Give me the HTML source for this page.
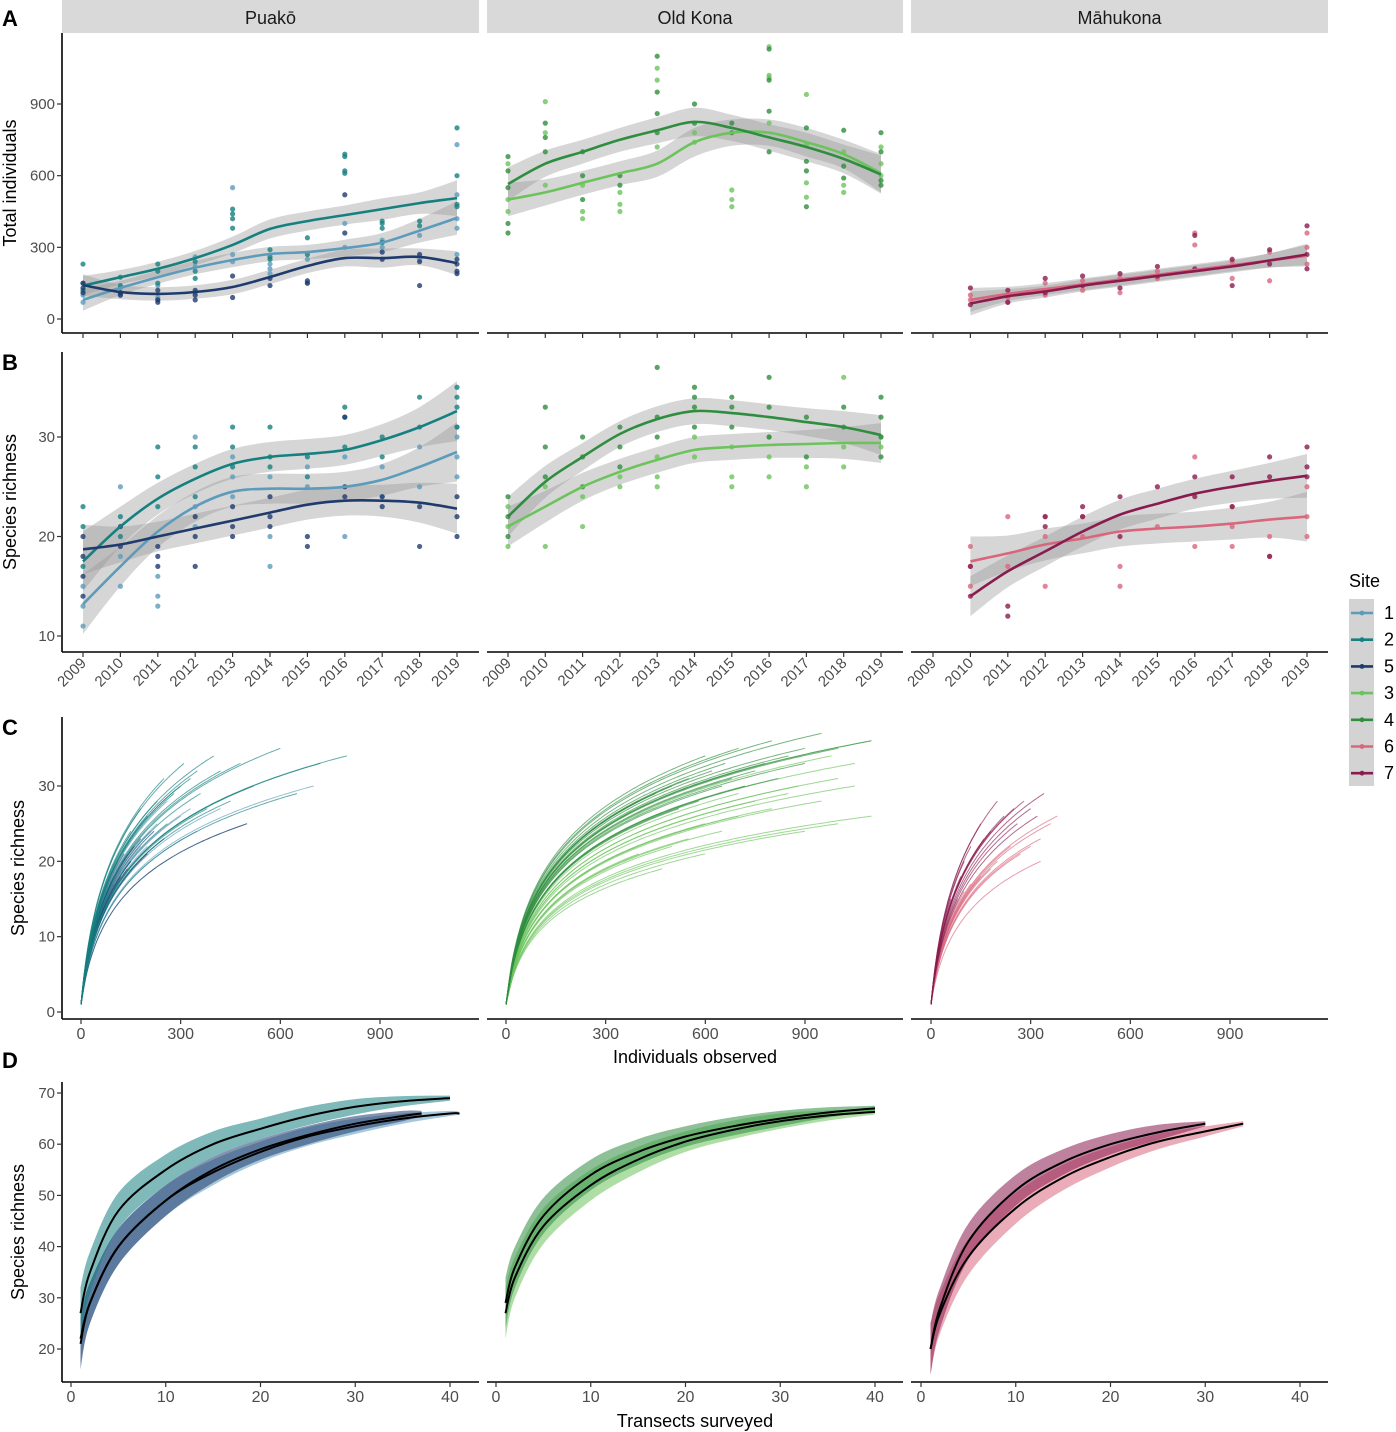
<!DOCTYPE html>
<html><head><meta charset="utf-8">
<style>
html,body{margin:0;padding:0;background:#fff;}
svg{display:block;font-family:"Liberation Sans",Arial,sans-serif;}
</style></head>
<body>
<svg id="fig" width="1396" height="1432" viewBox="0 0 1396 1432" xmlns="http://www.w3.org/2000/svg"></svg>
<script>
// ---------- DATA ----------
const years = [2009,2010,2011,2012,2013,2014,2015,2016,2017,2018,2019];
const yearsM = [2010,2011,2012,2013,2014,2015,2016,2017,2018,2019];
const siteNames = ['1','2','5','3','4','6','7'];
const siteColors = {'1':'#5d9bbb','2':'#168080','5':'#1f3b6e','3':'#6cc35c','4':'#2f8d3f','6':'#d8677e','7':'#8a1b4f'};
const sites = ['Puakō','Old Kona','Māhukona'];

// Panel A: total individuals (loess fits and SE)
const aFit1 = [80,130,175,215,247,272,280,297,320,370,423];
const aSe1  = [45,30,28,28,30,30,30,35,40,50,70];
const aFit2 = [140,175,210,255,310,377,410,435,460,485,506];
const aSe2  = [40,30,30,30,35,40,40,40,45,45,75];
const aFit5 = [142,113,105,113,134,176,222,255,255,260,234];
const aSe5  = [45,30,28,28,30,30,30,35,40,35,50];
const aFit3 = [500,530,570,610,650,740,780,780,740,690,610];
const aSe3  = [70,55,50,50,55,60,55,55,60,60,80];
const aFit4 = [565,650,700,750,790,825,800,760,720,670,605];
const aSe4  = [70,55,50,50,55,60,55,55,60,60,80];
const aFit6 = [80,105,125,145,165,185,205,225,245,265];
const aSe6  = [50,30,25,25,25,25,25,25,30,45];
const aFit7 = [65,95,115,140,160,180,200,220,245,270];
const aSe7  = [50,30,25,25,25,25,25,25,30,45];
const aPts1 = [[70,100],[130,100],[140,90,80],[260,220,110],[550,270,240],[230,210,190],[250,150],[400,300],[330,300],[350,250],[730,520,420,380,270]];
const aPts2 = [[230,150,120],[175,140,110],[230,200,150],[240,200,170],[460,440,420,380],[290,260,250],[340,270],[690,680,620,610],[410,400,380,320],[410,390],[800,600,480,470]];
const aPts5 = [[150,130,110],[110,100],[120,80,70],[120,100,80],[180,90],[170,140],[160,150],[520,360],[280,250],[270,240,140],[250,230,200,190]];
const aPts3 = [[650,500,450],[910,780,560],[560,450,420],[530,480,450],[1050,1000,720],[780,740],[540,500,470],[1140,1020,1010,820],[940,730,570,510],[700,560,530],[720,650,600]];
const aPts4 = [[680,620,550,400,360],[820,760,700],[700,600,500],[600,560],[1100,950,860,780],[900,820],[820,780],[1130,1000,870,700],[800,660,620,470],[790,640,590],[780,700,580,560]];
const aPts6 = [[100,80],[90,70],[150,100],[160,120],[170,110],[200,170],[360,310],[240,170],[280,160],[360,300,230]];
const aPts7 = [[130,60],[120,70],[170,110],[180,140],[190,130],[220,180],[350,210],[250,140],[290,230],[390,270,210]];
const aTicks = [0,300,600,900];

// Panel B: species richness by year
const bFit1 = [13.2,17,20.5,23,24.5,24.8,24.8,25,25.7,27,28.5];
const bSe1  = [3,2,1.6,1.5,1.5,1.5,1.5,1.5,1.6,2,3];
const bFit2 = [17.5,21,23.8,25.8,27.3,28,28.3,28.7,29.7,31,32.6];
const bSe2  = [3,2,1.6,1.5,1.5,1.5,1.5,1.5,1.6,2,3];
const bFit5 = [18.7,19.2,20,20.8,21.6,22.4,23.2,23.6,23.6,23.4,22.8];
const bSe5  = [2.5,1.8,1.5,1.5,1.5,1.5,1.5,1.5,1.6,2,2.5];
const bFit3 = [21,23,25,26.5,27.7,28.7,29,29.2,29.3,29.4,29.4];
const bSe3  = [2,1.6,1.4,1.3,1.3,1.3,1.3,1.3,1.4,1.6,2];
const bFit4 = [22,25.5,28,30.3,31.8,32.6,32.4,32,31.5,31,30.2];
const bSe4  = [2,1.6,1.4,1.3,1.3,1.3,1.3,1.3,1.4,1.6,2];
const bFit6 = [17.5,18.3,19.2,19.8,20.5,20.8,21,21.3,21.7,22];
const bSe6  = [2.5,1.8,1.6,1.5,1.5,1.5,1.5,1.6,1.8,2.5];
const bFit7 = [14,16.5,18.5,20.5,22.2,23.3,24.3,25,25.6,26.1];
const bSe7  = [2,1.6,1.5,1.5,1.5,1.5,1.5,1.6,1.8,2.2];
const bPts1 = [[15,13,11],[25,18,15],[16,14,13],[30,23,21],[28,26,24],[26,20,17],[27,25],[28,20],[27,24],[29,25],[31,30,28,26]];
const bPts2 = [[23,21,17],[22,20],[29,26,23],[29,27,24],[31,29,27],[31,28,27],[28,26],[33,32,29],[30,28],[34,31],[35,34,33,31]];
const bPts5 = [[20,18,16,14],[21,19],[19,18,17],[22,20,17],[23,21,20],[24,22,21],[20,19],[32,25,24],[24,23],[23,19],[24,22,20]];
const bPts3 = [[23,21,19],[25,19],[24,21],[26,25],[28,26,25],[30,28],[29,26,25],[30,28,26],[27,25],[36,29,27],[30,29]];
const bPts4 = [[24,22,20],[33,29,26],[30,28,25],[31,29,27],[37,32,30],[35,34,33,31],[34,33,31],[36,33,30],[32,28],[33,31],[34,32,30,28]];
const bPts6 = [[19,17,15],[22,17],[22,20,15],[22,20],[17,15],[21],[28,19],[23,21,19],[20,18],[25,22,20]];
const bPts7 = [[17,14],[13,12],[22,21],[23,22],[24,20],[25],[26,24],[26,23],[28,26,18],[29,27,26]];
const bTicks = [10,20,30];

// Panel C: rarefaction endpoints [individuals, species]
const cEnd1 = [[700,30],[500,25],[420,27],[350,24],[200,22],[150,20],[300,26],[250,23],[100,17],[120,19],[180,22],[260,28],[230,25],[80,14],[140,21],[330,27],[210,24]];
const cEnd2 = [[600,35],[800,34],[720,33],[650,29],[480,33],[400,34],[350,32],[300,30],[250,31],[450,28],[380,27],[200,26],[280,29],[520,30],[150,24],[230,28],[330,31],[420,32],[180,27],[260,25],[360,29],[310,33]];
const cEnd5 = [[500,25],[250,23],[200,21],[150,20],[120,18],[100,18],[80,16],[60,15],[180,23],[220,24],[140,19],[90,17],[70,14],[160,22],[110,20],[130,21]];
const cEnd3 = [[1100,36],[1050,30],[1000,31],[1100,26],[1000,25],[900,24],[950,28],[800,27],[700,26],[600,21],[470,19],[550,23],[650,24],[750,28],[850,29],[500,22],[400,21],[880,30],[1050,33],[600,25],[700,29],[980,34]];
const cEnd4 = [[950,37],[800,36],[700,35],[600,34],[1000,35],[900,33],[750,32],[650,30],[550,31],[850,34],[500,30],[450,29],[1100,36],[780,33],[680,31],[620,32],[580,28],[720,30],[820,31],[400,28],[520,27],[900,35],[660,33]];
const cEnd6 = [[380,26],[360,25],[330,23],[330,20],[300,22],[270,21],[200,20],[150,18],[240,22],[180,19],[120,17],[80,15],[100,16]];
const cEnd7 = [[340,29],[280,28],[200,28],[250,27],[300,27],[150,25],[220,26],[180,24],[120,22],[100,20],[260,25],[320,26],[160,23],[90,18],[60,15]];
const cTicksX = [0,300,600,900];
const cTicksY = [0,10,20,30];

// Panel D: sample-based rarefaction (transects)
const dX = [1,2,5,10,15,20,25,30,35,40];
const dFit2 = [27,35,47,55,60,63,65.5,67.3,68.4,69];
const dSe2  = [5,4,3.5,3,2.5,2,1.8,1.5,1,0.5];
const dFit1 = [22,29,40,49,54.5,58.5,61.5,63.5,65,66];
const dSe1  = [5,4,3.5,3,2.5,2,1.8,1.5,1,0.5];
const dFit5 = [21,29,40,49,55,59,61.8,64,65.5,66];
const dSe5  = [5,4,3.5,3,2.5,2,1.8,1.5,1,0.5];
const dFit4 = [29,36,46,54,58.5,61.5,63.5,65,66.2,67];
const dSe4  = [5,4,3.5,3,2.5,2,1.8,1.5,1,0.5];
const dFit3 = [27,34,44,52,57,60.5,62.8,64.5,65.6,66.3];
const dSe3  = [5,4,3.5,3,2.5,2,1.8,1.5,1,0.5];
const dX7 = [1,2,5,10,15,20,25,30];
const dFit7 = [20,28,41,51,56.5,60,62.3,64];
const dSe7  = [5,4,3.5,3,2.5,2,1.5,0.5];
const dX6 = [1,2,5,10,15,20,25,30,34];
const dFit6 = [20,27,38,47.5,53.5,57.5,60.5,62.5,64];
const dSe6  = [5,4,3.5,3,2.5,2,1.5,1,0.5];
const dTicksX = [0,10,20,30,40];
const dTicksY = [20,30,40,50,60,70];

// ---------- GEOMETRY ----------
const svg = document.getElementById('fig');
const NS = 'http://www.w3.org/2000/svg';
const cols = [{x0:62,x1:479},{x0:487,x1:903},{x0:911,x1:1328}];
function mk(tag, attrs, parent){const e=document.createElementNS(NS,tag);for(const k in attrs)e.setAttribute(k,attrs[k]);(parent||svg).appendChild(e);return e;}
function txt(s, attrs, parent){const e=mk('text',attrs,parent);e.textContent=s;return e;}
function smooth(pts){
  if(pts.length<2)return '';
  let d='M'+pts[0][0].toFixed(1)+','+pts[0][1].toFixed(1);
  for(let i=0;i<pts.length-1;i++){
    const p0=pts[i-1]||pts[i],p1=pts[i],p2=pts[i+1],p3=pts[i+2]||p2;
    const c1=[p1[0]+(p2[0]-p0[0])/6,p1[1]+(p2[1]-p0[1])/6];
    const c2=[p2[0]-(p3[0]-p1[0])/6,p2[1]-(p3[1]-p1[1])/6];
    d+='C'+c1[0].toFixed(1)+','+c1[1].toFixed(1)+' '+c2[0].toFixed(1)+','+c2[1].toFixed(1)+' '+p2[0].toFixed(1)+','+p2[1].toFixed(1);
  }
  return d;
}
function ribbon(xs, lo, hi){
  const up=xs.map((x,i)=>[x,hi[i]]);
  const dn=xs.map((x,i)=>[x,lo[i]]).reverse();
  return smooth(up)+'L'+dn[0][0].toFixed(1)+','+dn[0][1].toFixed(1)+smooth(dn).replace(/^M[^C]*/,'')+'Z';
}

// strips
sites.forEach((s,i)=>{
  const g=mk('g',{});
  
  
  mk('rect',{x:cols[i].x0,y:0,width:cols[i].x1-cols[i].x0,height:33,fill:'#d9d9d9'},g);
  txt(s,{x:(cols[i].x0+cols[i].x1)/2,y:24,'font-size':18,'text-anchor':'middle',fill:'#1a1a1a'},g);
});

function axesFrame(name, col, yTop, yBot, hasLeft){
  const g=mk('g',{});
  
  
  mk('line',{x1:cols[col].x0,x2:cols[col].x1,y1:yBot,y2:yBot,stroke:'#000','stroke-width':1.6},g);
  if(hasLeft) mk('line',{x1:cols[col].x0,x2:cols[col].x0,y1:yTop,y2:yBot,stroke:'#000','stroke-width':1.6},g);
  return g;
}

// ---------- Rows A & B ----------
const yrX = [[83,37.4],[508,37.3],[933,37.4]];
function yearX(c,yr){return yrX[c][0]+(yr-2009)*yrX[c][1];}
function rowYearPanel(cfg){
  const {yTop,yBot,vy,series,ticks,label,row,showXLabels}=cfg;
  for(let c=0;c<3;c++){
    const g=axesFrame('panel-'+row+'-'+(c+1),c,yTop,yBot,c===0);
    // ticks x
    years.forEach(yr=>{
      const x=yearX(c,yr);
      mk('line',{x1:x,x2:x,y1:yBot,y2:yBot+5,stroke:'#333','stroke-width':1.2},g);
      if(showXLabels){
        const t=txt(String(yr),{x:x+4,y:yBot+12,'font-size':15,fill:'#4d4d4d','text-anchor':'end',transform:'rotate(-45 '+(x+4)+' '+(yBot+12)+')'},g);
        
        
      }
    });
    if(c===0){
      ticks.forEach(v=>{
        const y=vy(v);
        mk('line',{x1:57,x2:62,y1:y,y2:y,stroke:'#333','stroke-width':1.2},g);
        const t=txt(String(v),{x:55,y:y+5,'font-size':15,fill:'#4d4d4d','text-anchor':'end'},g);
        
        
      });
    }
    const ser=series[c];
    // ribbons
    ser.forEach(s=>{
      const xs=s.yrs.map(yr=>yearX(c,yr));
      const p=mk('path',{d:ribbon(xs,s.fit.map((v,i)=>vy(v-s.se[i])),s.fit.map((v,i)=>vy(v+s.se[i]))),fill:'#999','fill-opacity':0.4},g);
      
      
    });
    // points
    ser.forEach(s=>{
      s.pts.forEach((arr,i)=>{
        const x=yearX(c,s.yrs[i]);
        arr.forEach(v=>{
          const pt=mk('circle',{cx:x,cy:vy(v),r:2.6,fill:siteColors[s.site],'fill-opacity':0.8},g);
          
          
        });
      });
    });
    // lines
    ser.forEach(s=>{
      const xs=s.yrs.map(yr=>yearX(c,yr));
      const l=mk('path',{d:smooth(xs.map((x,i)=>[x,vy(s.fit[i])])),fill:'none',stroke:siteColors[s.site],'stroke-width':2.6},g);
      
      
    });
  }
  const tl=txt(label,{x:0,y:0,'font-size':18,fill:'#000','text-anchor':'middle',transform:'translate(16,'+((yTop+yBot)/2)+') rotate(-90)'});
  
  
}
const vyA = v=>319-v*(215/900);
rowYearPanel({row:'a',yTop:33,yBot:333,vy:vyA,ticks:aTicks,label:'Total individuals',showXLabels:false,series:[
  [{site:'1',yrs:years,fit:aFit1,se:aSe1,pts:aPts1},{site:'2',yrs:years,fit:aFit2,se:aSe2,pts:aPts2},{site:'5',yrs:years,fit:aFit5,se:aSe5,pts:aPts5}],
  [{site:'3',yrs:years,fit:aFit3,se:aSe3,pts:aPts3},{site:'4',yrs:years,fit:aFit4,se:aSe4,pts:aPts4}],
  [{site:'6',yrs:yearsM,fit:aFit6,se:aSe6,pts:aPts6},{site:'7',yrs:yearsM,fit:aFit7,se:aSe7,pts:aPts7}]
]});
const vyB = v=>636-(v-10)*(199/20);
rowYearPanel({row:'b',yTop:352,yBot:652,vy:vyB,ticks:bTicks,label:'Species richness',showXLabels:true,series:[
  [{site:'1',yrs:years,fit:bFit1,se:bSe1,pts:bPts1},{site:'2',yrs:years,fit:bFit2,se:bSe2,pts:bPts2},{site:'5',yrs:years,fit:bFit5,se:bSe5,pts:bPts5}],
  [{site:'3',yrs:years,fit:bFit3,se:bSe3,pts:bPts3},{site:'4',yrs:years,fit:bFit4,se:bSe4,pts:bPts4}],
  [{site:'6',yrs:yearsM,fit:bFit6,se:bSe6,pts:bPts6},{site:'7',yrs:yearsM,fit:bFit7,se:bSe7,pts:bPts7}]
]});

// ---------- Row C ----------
const cx0=[81,506,931];
const cxs=299/900;
const cyC=v=>1012-v*(226/30);
const cGroups=[[['1',cEnd1],['5',cEnd5],['2',cEnd2]],[['3',cEnd3],['4',cEnd4]],[['6',cEnd6],['7',cEnd7]]];
for(let c=0;c<3;c++){
  const g=axesFrame('panel-c-'+(c+1),c,717,1019,c===0);
  cTicksX.forEach(v=>{
    const x=cx0[c]+v*cxs;
    mk('line',{x1:x,x2:x,y1:1019,y2:1024,stroke:'#333','stroke-width':1.2},g);
    const t=txt(String(v),{x:x,y:1039,'font-size':16,fill:'#4d4d4d','text-anchor':'middle'},g);
    
    
  });
  if(c===0) cTicksY.forEach(v=>{
    const y=cyC(v);
    mk('line',{x1:57,x2:62,y1:y,y2:y,stroke:'#333','stroke-width':1.2},g);
    txt(String(v),{x:55,y:y+5,'font-size':15,fill:'#4d4d4d','text-anchor':'end'},g);
  });
  cGroups[c].forEach(([site,ends])=>{
    ends.forEach(([N,S])=>{
      const k=25, pts=[];
      for(let i=0;i<=40;i++){const n=N*i/40;pts.push([cx0[c]+n*cxs,cyC(1+(S-1)*Math.log(1+n/k)/Math.log(1+N/k))]);}
      const l=mk('path',{d:smooth(pts),fill:'none',stroke:siteColors[site],'stroke-width':1,'stroke-opacity':0.65},g);
      
      
    });
  });
}
let tt=txt('Individuals observed',{x:695,y:1063,'font-size':18,'text-anchor':'middle',fill:'#000'});

tt=txt('Species richness',{x:0,y:0,'font-size':18,fill:'#000','text-anchor':'middle',transform:'translate(24,868) rotate(-90)'});


// ---------- Row D ----------
const dx0=[71,496,921];
const dxs=379/40;
const cyD=v=>1349-(v-20)*(256/50);
const dGroups=[
  [{site:'1',xs:dX.concat([41]),fit:dFit1.concat([66]),se:dSe1.concat([0.3])},{site:'5',xs:dX.slice(0,9).concat([37]),fit:dFit5.slice(0,9).concat([66]),se:dSe5},{site:'2',xs:dX,fit:dFit2,se:dSe2}],
  [{site:'3',xs:dX,fit:dFit3,se:dSe3},{site:'4',xs:dX,fit:dFit4,se:dSe4}],
  [{site:'6',xs:dX6,fit:dFit6,se:dSe6},{site:'7',xs:dX7,fit:dFit7,se:dSe7}]
];
for(let c=0;c<3;c++){
  const g=axesFrame('panel-d-'+(c+1),c,1082,1382,c===0);
  dTicksX.forEach(v=>{
    const x=dx0[c]+v*dxs;
    mk('line',{x1:x,x2:x,y1:1382,y2:1387,stroke:'#333','stroke-width':1.2},g);
    const t=txt(String(v),{x:x,y:1402,'font-size':16,fill:'#4d4d4d','text-anchor':'middle'},g);
    
    
  });
  if(c===0) dTicksY.forEach(v=>{
    const y=cyD(v);
    mk('line',{x1:57,x2:62,y1:y,y2:y,stroke:'#333','stroke-width':1.2},g);
    txt(String(v),{x:55,y:y+5,'font-size':15,fill:'#4d4d4d','text-anchor':'end'},g);
  });
  dGroups[c].forEach(s=>{
    const xs=s.xs.map(v=>dx0[c]+v*dxs);
    const p=mk('path',{d:ribbon(xs,s.fit.map((v,i)=>cyD(v-s.se[i])),s.fit.map((v,i)=>cyD(v+s.se[i]))),fill:siteColors[s.site],'fill-opacity':0.55},g);
    
    
  });
  dGroups[c].forEach(s=>{
    const xs=s.xs.map(v=>dx0[c]+v*dxs);
    const l=mk('path',{d:smooth(xs.map((x,i)=>[x,cyD(s.fit[i])])),fill:'none',stroke:'#000','stroke-width':2},g);
    
    
  });
}
tt=txt('Transects surveyed',{x:695,y:1427,'font-size':18,'text-anchor':'middle',fill:'#000'});

tt=txt('Species richness',{x:0,y:0,'font-size':18,fill:'#000','text-anchor':'middle',transform:'translate(24,1232) rotate(-90)'});


// panel letters
[['A',18],['B',362],['C',727],['D',1060]].forEach(([L,y])=>{
  const t=txt(L,{x:2,y:y+8,'font-size':22,'font-weight':'bold',fill:'#000'});
  
  
});

// legend
const lg=mk('g',{});


txt('Site',{x:1349,y:587,'font-size':18,fill:'#000'},lg);
mk('rect',{x:1349,y:599,width:25,height:187,fill:'#d3d3d3'},lg);
siteNames.forEach((s,i)=>{
  const y=613+i*26.7;
  const e=mk('g',{},lg);
  
  
  mk('line',{x1:1351,x2:1373,y1:y,y2:y,stroke:siteColors[s],'stroke-width':2.6},e);
  mk('circle',{cx:1362,cy:y,r:2.4,fill:siteColors[s]},e);
  txt(s,{x:1384,y:y+6,'font-size':18,fill:'#000'},e);
});
</script>
</body></html>
